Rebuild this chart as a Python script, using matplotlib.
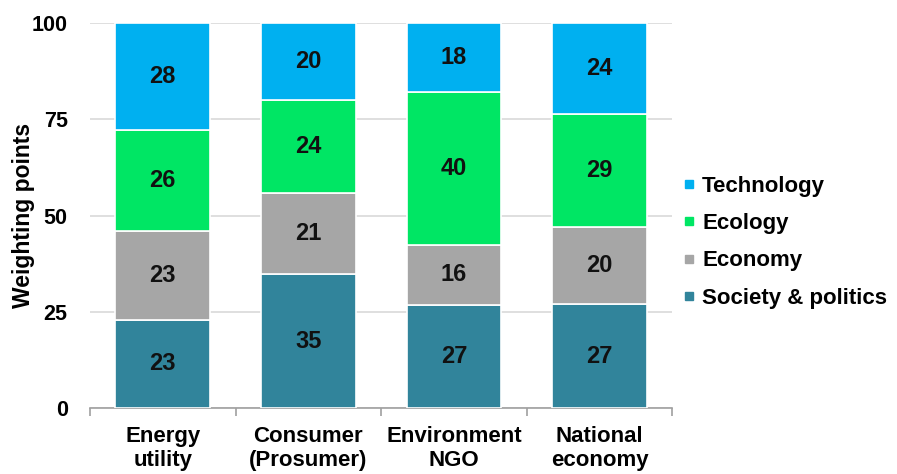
import matplotlib
matplotlib.use("Agg")
import matplotlib.pyplot as plt
import numpy as np
from matplotlib.lines import Line2D

# weighting points per stakeholder group
categories = ["Energy\nutility", "Consumer\n(Prosumer)", "Environment\nNGO", "National\neconomy"]
series_names = ["Society & politics", "Economy", "Ecology", "Technology"]
society = [23.0, 34.8, 26.8, 27.0]
economy = [23.0, 21.2, 15.6, 20.0]
ecology = [26.2, 24.0, 39.8, 29.4]
technology = [27.8, 20.0, 17.8, 23.6]
colors = ["#31849B", "#A6A6A6", "#00E664", "#00B0F0"]

plt.rcParams["font.family"] = ["Liberation Sans", "DejaVu Sans"]
plt.rcParams["font.weight"] = "bold"

fig = plt.figure(figsize=(8.97, 4.74), dpi=100)
ax = fig.add_axes([0.1003, 0.139, 0.6494, 0.812])

x = np.arange(len(categories))
bottom = np.zeros(len(categories))
for name, vals, col in zip(series_names, [society, economy, ecology, technology], colors):
    ax.bar(x, vals, width=0.65, bottom=bottom, color=col,
           edgecolor="white", linewidth=1.2, zorder=3)
    for xi, b, v in zip(x, bottom, vals):
        ax.text(xi, b + v / 2, f"{round(v):d}", ha="center", va="center",
                fontsize=17, fontweight="bold", color="#111111", zorder=4)
    bottom += np.array(vals)

ax.set_xlim(-0.5, len(categories) - 0.5)
ax.set_ylim(0, 100)
ax.set_yticks([0, 25, 50, 75, 100])
ax.yaxis.grid(True, color="#D9D9D9", linewidth=1.2, zorder=0)
ax.tick_params(axis="y", length=0, labelsize=15.5, pad=16)
for lab in ax.get_yticklabels():
    lab.set_fontweight("bold")

ax.set_xticks(x)
ax.set_xticklabels(categories, fontsize=16, fontweight="bold", linespacing=1.18)
ax.tick_params(axis="x", which="major", length=0, pad=13)
ax.set_xticks(np.arange(len(categories) + 1) - 0.5, minor=True)
ax.tick_params(axis="x", which="minor", length=6, color="#A0A0A0", width=1.2)

for side in ["top", "right", "left"]:
    ax.spines[side].set_visible(False)
ax.spines["bottom"].set_color("#A0A0A0")
ax.spines["bottom"].set_linewidth(1.2)

ax.set_ylabel("Weighting points", fontsize=16.5, fontweight="bold", labelpad=-2)

handles = [Line2D([], [], marker="s", linestyle="none", markersize=6,
                  markerfacecolor=c, markeredgecolor=c) for c in colors[::-1]]
fig.legend(handles, series_names[::-1], loc="center left",
           bbox_to_anchor=(0.760, 0.489), frameon=False,
           borderpad=0, borderaxespad=0,
           handletextpad=0.22, labelspacing=0.73, handlelength=0.7,
           prop={"weight": "bold", "size": 16})

fig.savefig("out.png", dpi=100)
